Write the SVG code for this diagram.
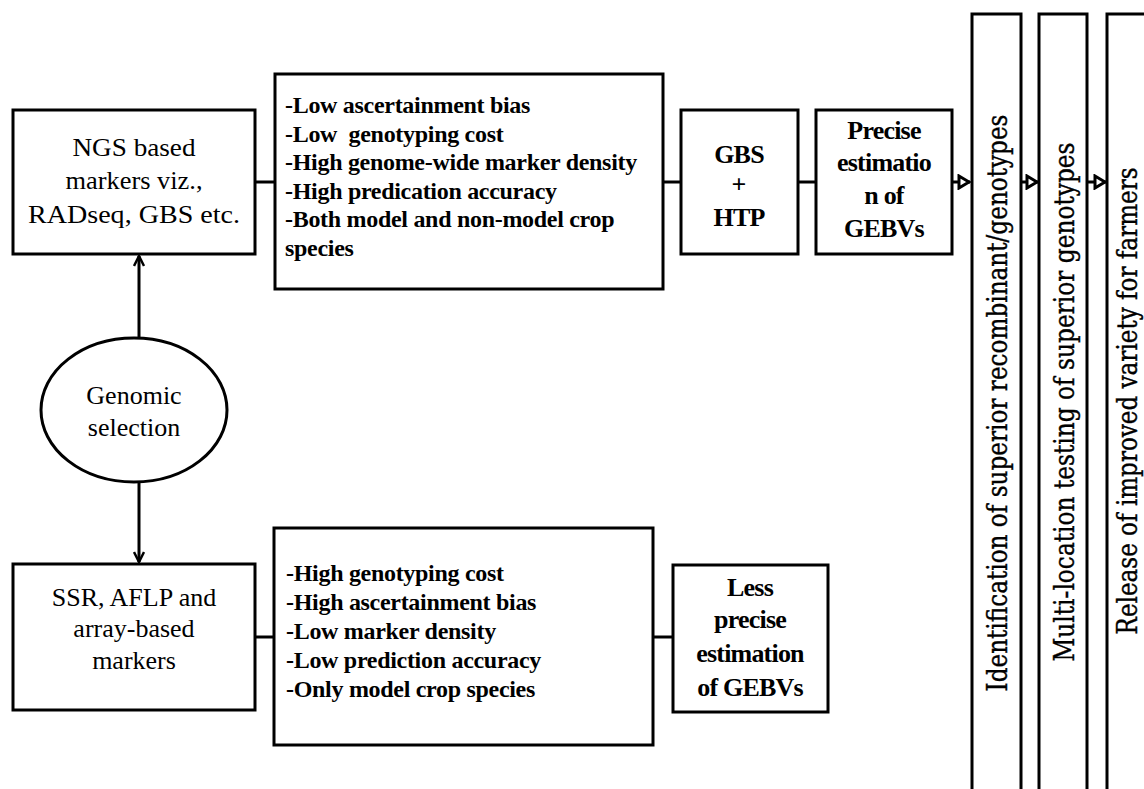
<svg xmlns="http://www.w3.org/2000/svg" width="1144" height="789" viewBox="0 0 1144 789">
<style>
.box{fill:#fff;stroke:#000;stroke-width:3}
.ln{fill:none;stroke:#000;stroke-width:3}
</style>
<defs>
<marker id="vh" viewBox="0 0 12 12" refX="11" refY="6" markerWidth="12" markerHeight="12" markerUnits="userSpaceOnUse" orient="auto">
<path d="M1,1 L11,6 L1,11" fill="none" stroke="#000" stroke-width="2.5"/>
</marker>
<marker id="ch" viewBox="0 0 14 16" refX="13" refY="8" markerWidth="14" markerHeight="16" markerUnits="userSpaceOnUse" orient="auto">
<path d="M2,2 L12,8 L2,14 Z" fill="#fff" stroke="#000" stroke-width="3"/>
</marker>
</defs>
<g id="connectors">
<line class="ln" x1="255" y1="182" x2="275" y2="182"/>
<line class="ln" x1="663" y1="182" x2="681" y2="182"/>
<line class="ln" x1="798" y1="182" x2="816" y2="182"/>
<line class="ln" x1="952" y1="182" x2="970" y2="182" marker-end="url(#ch)"/>
<line class="ln" x1="1021" y1="182" x2="1038" y2="182" marker-end="url(#ch)"/>
<line class="ln" x1="1087" y1="182" x2="1106" y2="182" marker-end="url(#ch)"/>
<line class="ln" x1="139" y1="338" x2="139" y2="256" marker-end="url(#vh)"/>
<line class="ln" x1="139" y1="482" x2="139" y2="562" marker-end="url(#vh)"/>
<line class="ln" x1="255" y1="637" x2="274" y2="637"/>
<line class="ln" x1="653" y1="637" x2="673" y2="637"/>
</g>
<g id="ngs">
<rect class="box" x="13" y="110" width="242" height="144"/>
<text font-family="Liberation Serif" font-size="26" text-anchor="middle" x="134" y="156" textLength="123" lengthAdjust="spacingAndGlyphs">NGS based</text>
<text font-family="Liberation Serif" font-size="26" text-anchor="middle" x="134" y="189" textLength="137" lengthAdjust="spacingAndGlyphs">markers viz.,</text>
<text font-family="Liberation Serif" font-size="26" text-anchor="middle" x="134" y="223" textLength="212" lengthAdjust="spacingAndGlyphs">RADseq, GBS etc.</text>
</g>
<g id="ngs-features">
<rect class="box" x="275" y="74" width="388" height="215"/>
<text font-family="Liberation Serif" font-size="24" font-weight="bold" letter-spacing="-0.3" x="285" y="113">-Low ascertainment bias</text>
<text font-family="Liberation Serif" font-size="24" font-weight="bold" letter-spacing="-0.3" x="285" y="142" xml:space="preserve">-Low  genotyping cost</text>
<text font-family="Liberation Serif" font-size="24" font-weight="bold" letter-spacing="-0.3" x="285" y="170">-High genome-wide marker density</text>
<text font-family="Liberation Serif" font-size="24" font-weight="bold" letter-spacing="-0.3" x="285" y="199">-High predication accuracy</text>
<text font-family="Liberation Serif" font-size="24" font-weight="bold" letter-spacing="-0.3" x="285" y="227">-Both model and non-model crop</text>
<text font-family="Liberation Serif" font-size="24" font-weight="bold" letter-spacing="-0.3" x="285" y="256">species</text>
</g>
<g id="gbs">
<rect class="box" x="681" y="110" width="117" height="144"/>
<text font-family="Liberation Serif" font-size="26" font-weight="bold" letter-spacing="-0.8" text-anchor="middle" x="739" y="163">GBS</text>
<text font-family="Liberation Serif" font-size="26" font-weight="bold" text-anchor="middle" x="739" y="193">+</text>
<text font-family="Liberation Serif" font-size="26" font-weight="bold" letter-spacing="-0.8" text-anchor="middle" x="739" y="226">HTP</text>
</g>
<g id="precise">
<rect class="box" x="816" y="110" width="136" height="144"/>
<text font-family="Liberation Serif" font-size="26" font-weight="bold" letter-spacing="-0.8" text-anchor="middle" x="884" y="139">Precise</text>
<text font-family="Liberation Serif" font-size="26" font-weight="bold" letter-spacing="-0.8" text-anchor="middle" x="884" y="171">estimatio</text>
<text font-family="Liberation Serif" font-size="26" font-weight="bold" letter-spacing="-0.8" text-anchor="middle" x="884" y="204">n of</text>
<text font-family="Liberation Serif" font-size="26" font-weight="bold" letter-spacing="-0.8" text-anchor="middle" x="884" y="237">GEBVs</text>
</g>
<g id="step1">
<rect class="box" x="972" y="14" width="49" height="800"/>
<text font-family="DejaVu Serif" font-size="27" stroke="#000" stroke-width="0.4" text-anchor="middle" transform="translate(1007,403) rotate(-90)" textLength="577" lengthAdjust="spacingAndGlyphs">Identification of superior recombinant/genotypes</text>
</g>
<g id="step2">
<rect class="box" x="1039" y="14" width="48" height="800"/>
<text font-family="DejaVu Serif" font-size="27" stroke="#000" stroke-width="0.4" text-anchor="middle" transform="translate(1074,402) rotate(-90)" textLength="519" lengthAdjust="spacingAndGlyphs">Multi-location testing of superior genotypes</text>
</g>
<g id="step3">
<rect class="box" x="1107" y="14" width="48" height="800"/>
<text font-family="DejaVu Serif" font-size="27" stroke="#000" stroke-width="0.4" text-anchor="middle" transform="translate(1137,401) rotate(-90)" textLength="467" lengthAdjust="spacingAndGlyphs">Release of improved variety  for farmers</text>
</g>
<g id="genomic">
<ellipse class="box" cx="134" cy="410" rx="93" ry="72"/>
<text font-family="Liberation Serif" font-size="26" text-anchor="middle" x="134" y="404">Genomic</text>
<text font-family="Liberation Serif" font-size="26" text-anchor="middle" x="134" y="436">selection</text>
</g>
<g id="ssr">
<rect class="box" x="13" y="564" width="242" height="146"/>
<text font-family="Liberation Serif" font-size="26" text-anchor="middle" x="134" y="606">SSR, AFLP and</text>
<text font-family="Liberation Serif" font-size="26" text-anchor="middle" x="134" y="637">array-based</text>
<text font-family="Liberation Serif" font-size="26" text-anchor="middle" x="134" y="669">markers</text>
</g>
<g id="ssr-features">
<rect class="box" x="274" y="528" width="379" height="217"/>
<text font-family="Liberation Serif" font-size="24" font-weight="bold" letter-spacing="-0.3" x="286" y="581">-High genotyping cost</text>
<text font-family="Liberation Serif" font-size="24" font-weight="bold" letter-spacing="-0.3" x="286" y="610">-High ascertainment bias</text>
<text font-family="Liberation Serif" font-size="24" font-weight="bold" letter-spacing="-0.3" x="286" y="639">-Low marker density</text>
<text font-family="Liberation Serif" font-size="24" font-weight="bold" letter-spacing="-0.3" x="286" y="668">-Low prediction accuracy</text>
<text font-family="Liberation Serif" font-size="24" font-weight="bold" letter-spacing="-0.3" x="286" y="697">-Only model crop species</text>
</g>
<g id="less">
<rect class="box" x="673" y="565" width="155" height="147"/>
<text font-family="Liberation Serif" font-size="26" font-weight="bold" letter-spacing="-0.8" text-anchor="middle" x="750" y="596">Less</text>
<text font-family="Liberation Serif" font-size="26" font-weight="bold" letter-spacing="-0.8" text-anchor="middle" x="750" y="628">precise</text>
<text font-family="Liberation Serif" font-size="26" font-weight="bold" letter-spacing="-0.8" text-anchor="middle" x="750" y="662">estimation</text>
<text font-family="Liberation Serif" font-size="26" font-weight="bold" letter-spacing="-0.8" text-anchor="middle" x="750" y="696">of GEBVs</text>
</g>
</svg>
